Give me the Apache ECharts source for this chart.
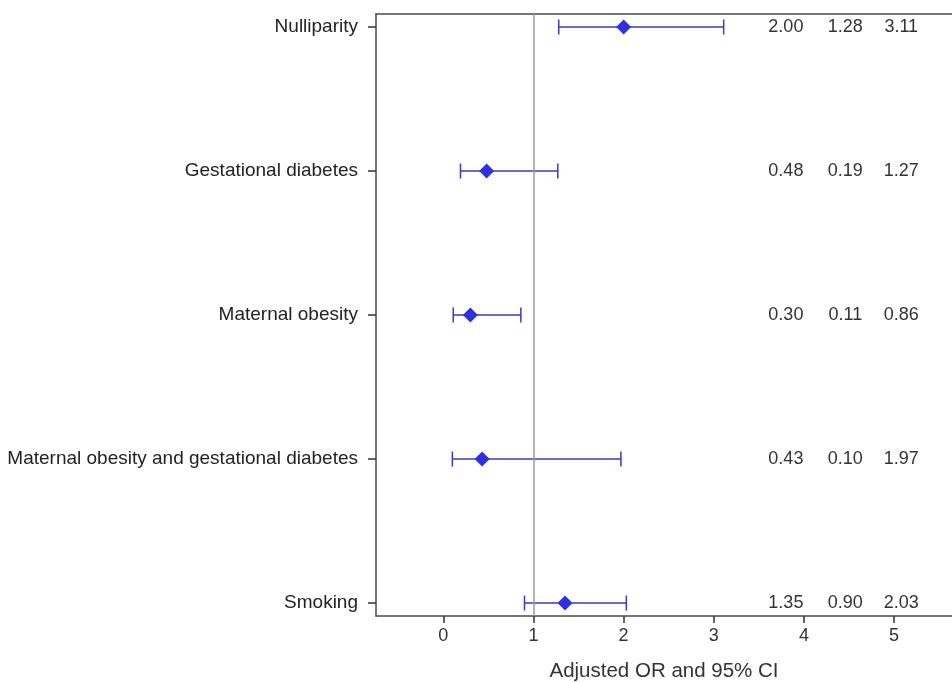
<!DOCTYPE html>
<html>
<head>
<meta charset="utf-8">
<script src="https://cdn.jsdelivr.net/npm/echarts@6/dist/echarts.min.js"></script>
<style>html,body{margin:0;padding:0;background:#fff}#c{width:952px;height:683px}</style>
</head>
<body>
<div id="c"></div>
<script>
var categories = ["Nulliparity", "Gestational diabetes", "Maternal obesity", "Maternal obesity and gestational diabetes", "Smoking"];
var orValues = [2.00, 0.48, 0.30, 0.43, 1.35];
var lowerCI = [1.28, 0.19, 0.11, 0.10, 0.90];
var upperCI = [3.11, 1.27, 0.86, 1.97, 2.03];
var xTicks = [0, 1, 2, 3, 4, 5];
var textColumnX = [3.80, 4.46, 5.08];

var FONT = '"Liberation Sans", Arial, Helvetica, sans-serif';
var BLUE = '#3a3ac4';
var FRAME = '#4a4a4a';
var rows = categories.map(function (c, i) { return i; });
var XMIN = -0.747, XMAX = 5.643;

var chart = echarts.init(document.getElementById('c'));
chart.setOption({
  animation: false,
  backgroundColor: '#fff',
  grid: { left: 376, top: 14, bottom: 67, right: 0, containLabel: false, outerBoundsMode: 'none' },
  xAxis: [{
    type: 'value', min: XMIN, max: XMAX,
    axisLine: { show: true, onZero: false, lineStyle: { color: FRAME, width: 1.5 } },
    splitLine: { show: false },
    axisTick: { show: true, length: 7, customValues: xTicks, lineStyle: { color: '#333', width: 1.5 } },
    axisLabel: { customValues: xTicks, margin: 11, color: '#333', fontSize: 18, fontFamily: FONT },
    name: 'Adjusted OR and 95% CI', nameLocation: 'middle', nameGap: 45,
    nameTextStyle: { color: '#333', fontSize: 20.5, fontFamily: FONT }
  }, {
    type: 'value', min: XMIN, max: XMAX, position: 'top',
    axisLine: { show: true, onZero: false, lineStyle: { color: FRAME, width: 1.5 } },
    splitLine: { show: false }, axisTick: { show: false }, axisLabel: { show: false }
  }],
  yAxis: {
    type: 'value', inverse: true, min: -0.09, max: 4.09,
    axisLine: { show: true, onZero: false, lineStyle: { color: FRAME, width: 1.5 } },
    splitLine: { show: false },
    axisTick: { show: true, length: 8, customValues: rows, lineStyle: { color: '#333', width: 1.5 } },
    axisLabel: { customValues: rows, margin: 18, color: '#222', fontSize: 19, fontFamily: FONT,
      formatter: function (v) { return categories[Math.round(v)] || ''; } }
  },
  series: [
    {
      type: 'custom',
      name: 'ci',
      data: rows.map(function (i) { return [lowerCI[i], upperCI[i], i]; }),
      encode: { x: [0, 1], y: 2 },
      renderItem: function (params, api) {
        var y = api.value(2);
        var p1 = api.coord([api.value(0), y]);
        var p2 = api.coord([api.value(1), y]);
        var h = 7.5;
        var st = { stroke: BLUE, lineWidth: 1.5 };
        return {
          type: 'group',
          children: [
            { type: 'line', shape: { x1: p1[0], y1: p1[1], x2: p2[0], y2: p2[1] }, style: st },
            { type: 'line', shape: { x1: p1[0], y1: p1[1] - h, x2: p1[0], y2: p1[1] + h }, style: st },
            { type: 'line', shape: { x1: p2[0], y1: p2[1] - h, x2: p2[0], y2: p2[1] + h }, style: st }
          ]
        };
      },
      markLine: {
        silent: true, symbol: 'none', label: { show: false },
        lineStyle: { color: '#9a9a9a', width: 1.5, type: 'solid' },
        data: [{ xAxis: 1 }]
      },
      z: 3
    },
    {
      type: 'scatter',
      name: 'or',
      symbol: 'diamond',
      symbolSize: [15, 15],
      itemStyle: { color: '#3030e0', opacity: 1 },
      data: rows.map(function (i) { return [orValues[i], i]; }),
      z: 4
    },
    {
      type: 'custom',
      name: 'text',
      data: rows.map(function (i) { return [orValues[i], lowerCI[i], upperCI[i], i]; }),
      encode: { y: 3 },
      renderItem: function (params, api) {
        var y = api.value(3);
        var children = [];
        for (var k = 0; k < 3; k++) {
          var p = api.coord([textColumnX[k], y]);
          children.push({
            type: 'text',
            style: { text: api.value(k).toFixed(2), x: p[0], y: p[1], align: 'center', verticalAlign: 'middle',
              fill: '#333', font: '18px ' + FONT }
          });
        }
        return { type: 'group', children: children };
      },
      z: 5
    }
  ]
});
</script>
</body>
</html>
